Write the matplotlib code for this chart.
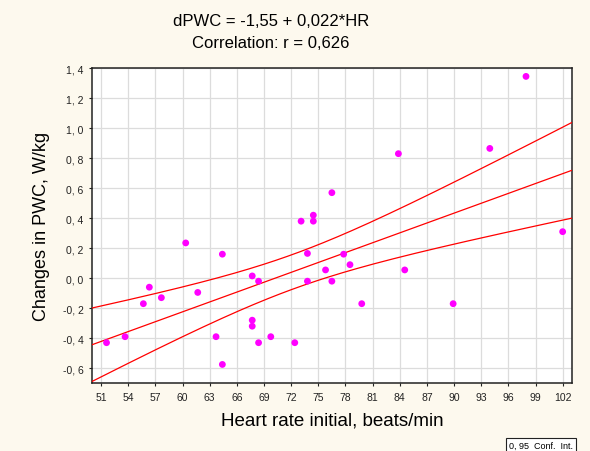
import matplotlib.pyplot as plt
import numpy as np

# heart rate initial (beats/min) and change in PWC (W/kg)
hr = [51.6, 53.65, 55.67, 56.33, 57.66, 60.35, 61.68, 63.7, 64.4, 64.4,
      67.7, 67.7, 67.7, 68.4, 68.4, 69.75, 72.4, 73.1, 73.8, 73.8,
      74.45, 74.45, 75.8, 76.5, 76.5, 77.8, 78.5, 79.8, 83.85, 84.55,
      89.9, 93.95, 97.95, 102.0]
dpwc = [-0.43, -0.39, -0.17, -0.06, -0.13, 0.235, -0.095, -0.39, 0.16, -0.575,
        0.015, -0.28, -0.32, -0.02, -0.43, -0.39, -0.43, 0.38, 0.165, -0.02,
        0.42, 0.38, 0.055, 0.57, -0.02, 0.16, 0.09, -0.17, 0.83, 0.055,
        -0.17, 0.865, 1.345, 0.31]

xticks = list(range(51, 103, 3))
yticks = [-0.6, -0.4, -0.2, 0.0, 0.2, 0.4, 0.6, 0.8, 1.0, 1.2, 1.4]
title1 = "dPWC = -1,55 + 0,022*HR"
title2 = "Correlation: r = 0,626"

x = np.array(hr)
y = np.array(dpwc)
n = len(x)
slope, icpt = np.polyfit(x, y, 1)
resid = y - (icpt + slope * x)
s = np.sqrt(np.sum(resid ** 2) / (n - 2))
sxx = np.sum((x - x.mean()) ** 2)
t95 = 2.037  # t(0.975, df=32)

xs = np.linspace(50, 103, 200)
fit = icpt + slope * xs
half = t95 * s * np.sqrt(1.0 / n + (xs - x.mean()) ** 2 / sxx)

bg = '#fdf9ee'
fig = plt.figure(figsize=(5.9, 4.52), dpi=100, facecolor=bg)
plt.rcParams['font.family'] = ['Liberation Sans', 'DejaVu Sans']
ax = fig.add_axes([0.156, 0.150, 0.813, 0.697])
ax.set_facecolor('white')

ax.plot(xs, fit, color='#ff0000', lw=0.9, zorder=3)
ax.plot(xs, fit + half, color='#ff0000', lw=0.9, zorder=3)
ax.plot(xs, fit - half, color='#ff0000', lw=0.9, zorder=3)
ax.scatter(x, y, s=24, color='#ff00ff', edgecolors='none', zorder=4)

ax.set_xlim(50, 103)
ax.set_ylim(-0.7, 1.4)
ax.set_xticks(xticks)
ax.set_yticks(yticks)
ax.set_yticklabels([f"{v:.1f}".replace('.', ', ') for v in yticks])
ax.tick_params(labelsize=7.5, length=2.5, width=0.8, colors='#222222')
ax.grid(True, color='#dcdcdc', lw=0.9, zorder=0)
ax.set_axisbelow(True)
for sp in ax.spines.values():
    sp.set_color('#222222')
    sp.set_linewidth(1.1)

ax.set_xlabel("Heart rate initial, beats/min", fontsize=13.5, labelpad=7)
ax.set_ylabel("Changes in PWC, W/kg", fontsize=13, labelpad=9)

fig.text(271 / 590, 1 - 22 / 452, title1, ha='center', va='center', fontsize=12)
fig.text(271 / 590, 1 - 43 / 452, title2, ha='center', va='center', fontsize=12)

fig.text(509 / 590, 1 - 446 / 452, "0, 95  Conf.  Int.", ha='left', va='center',
         fontsize=6.5, bbox=dict(boxstyle='square,pad=0.3', fc='white', ec='#222222', lw=0.8))

fig.savefig('out.png', dpi=100, facecolor=bg)
